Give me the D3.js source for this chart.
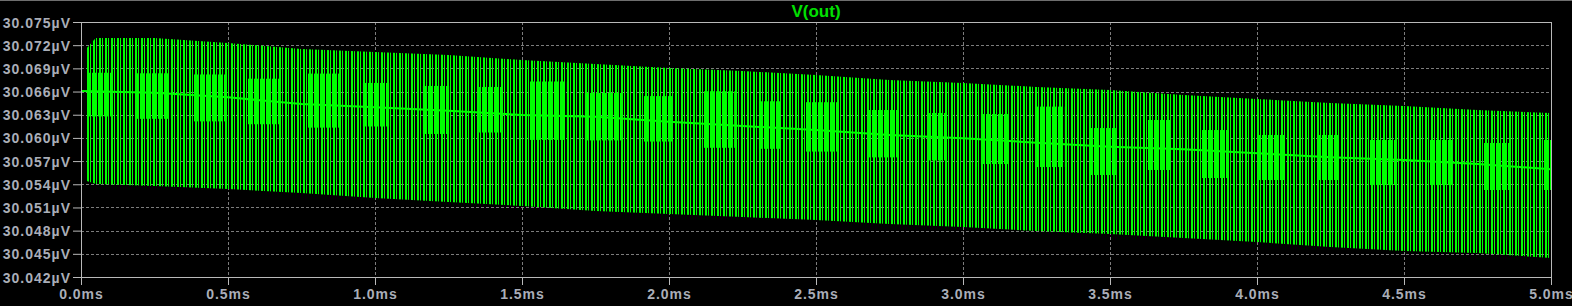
<!DOCTYPE html>
<html>
<head>
<meta charset="utf-8">
<script src="https://cdn.jsdelivr.net/npm/d3@7"></script>
<style>
  html, body { margin: 0; padding: 0; background: #000; }
  svg { display: block; }
</style>
</head>
<body>
<div id="chart"></div>
<script>
var width = 1572,
    height = 306;
var margin = { top: 22, right: 21, bottom: 29, left: 81 };

// envelope of the switching spikes (ms / uV)
var envTime = [0.02, 0.05, 0.25, 0.5, 0.75, 1.0, 1.25, 1.5, 1.75, 2.0, 2.25, 2.5, 2.75, 3.0, 3.25, 3.5, 3.75, 4.0, 4.25, 4.5, 4.75, 5.0];
var peakHi = [30.07164, 30.07293, 30.07293, 30.07228, 30.07151, 30.07112, 30.07073, 30.07008, 30.06956, 30.06905, 30.06866,
              30.06814, 30.06749, 30.06711, 30.06659, 30.06620, 30.06555, 30.06503, 30.06452, 30.06413, 30.06361, 30.06322];
var peakLo = [30.05442, 30.05403, 30.05378, 30.05339, 30.05287, 30.05222, 30.05170, 30.05119, 30.05054, 30.05015, 30.04976,
              30.04938, 30.04886, 30.04847, 30.04795, 30.04756, 30.04705, 30.04653, 30.04588, 30.04536, 30.04510, 30.04446];

// the dc level the spikes ride on
var midTime = [0, 0.25, 0.5, 0.75, 1.0, 1.25, 1.5, 1.75, 2.0, 2.25, 2.5, 2.75, 3.0, 3.25, 3.5, 3.75, 4.0, 4.25, 4.5, 4.75, 5.0];
var midVal = [30.06607, 30.06585, 30.06525, 30.06439, 30.06396, 30.06352, 30.06296, 30.06274, 30.06210, 30.06154, 30.06102,
              30.06038, 30.05995, 30.05938, 30.05886, 30.05852, 30.05801, 30.05749, 30.05714, 30.05662, 30.05594];

// dense bursts of shorter spikes around the dc level
var burstStart = [0.024, 0.190, 0.381, 0.568, 0.769, 0.959, 1.163, 1.354, 1.524, 1.714, 1.908, 2.112, 2.306, 2.463,
                  2.677, 2.881, 3.061, 3.245, 3.435, 3.626, 3.810, 4.000, 4.204, 4.384, 4.588, 4.769, 4.969];
var burstEnd = [0.105, 0.303, 0.490, 0.677, 0.878, 1.048, 1.252, 1.435, 1.650, 1.840, 2.010, 2.224, 2.384, 2.575,
                2.779, 2.939, 3.153, 3.344, 3.520, 3.707, 3.898, 4.092, 4.282, 4.476, 4.667, 4.861, 5.0];
var burstHi = [30.06843, 30.06836, 30.06821, 30.06766, 30.06832, 30.06711, 30.06672, 30.06659, 30.06730, 30.06581,
               30.06541, 30.06604, 30.06474, 30.06462, 30.06361, 30.06322, 30.06309, 30.06405, 30.06128, 30.06232,
               30.06102, 30.06038, 30.06038, 30.05973, 30.05973, 30.05934, 30.05973];
var burstLo = [30.06278, 30.06247, 30.06214, 30.06177, 30.06133, 30.06148, 30.06051, 30.06070, 30.05974, 30.05968,
               30.05953, 30.05872, 30.05859, 30.05823, 30.05748, 30.05709, 30.05662, 30.05623, 30.05520, 30.05585,
               30.05481, 30.05455, 30.05455, 30.05390, 30.05390, 30.05326, 30.05326];

var spikePeriod = 0.01; // ms, ~100kHz switching

var yTicks = [30.042, 30.045, 30.048, 30.051, 30.054, 30.057, 30.060, 30.063, 30.066, 30.069, 30.072, 30.075];
var xTicks = [0, 0.5, 1.0, 1.5, 2.0, 2.5, 3.0, 3.5, 4.0, 4.5, 5.0];
var traceName = "V(out)";

var green = "#00ff00";
var axisColor = "#b9b9b9";
var labelColor = "#aaaeb8";
var gridColor = "#7c7c7c";

var x = d3.scaleLinear().domain([0, 5]).range([margin.left, width - margin.right]);
var y = d3.scaleLinear().domain([30.042, 30.075]).range([height - margin.bottom, margin.top]);

var svg = d3.select("#chart").append("svg")
    .attr("width", width)
    .attr("height", height)
    .style("background", "#000");

// top border of the window
svg.append("line")
    .attr("x1", 0).attr("x2", width)
    .attr("y1", 0.5).attr("y2", 0.5)
    .attr("stroke", "#6e6e6e");

// stripes = one spike per switching period, snapped to whole pixels so they stay crisp
// (tile holds two periods, lines of 2px and 1px so the spikes are not all identical)
var pw = Math.round(x(spikePeriod) - x(0));
var x0 = Math.round(x(0));
var defs = svg.append("defs");
var pat = defs.append("pattern")
    .attr("id", "spikes")
    .attr("patternUnits", "userSpaceOnUse")
    .attr("x", x0).attr("y", 0)
    .attr("width", pw * 2).attr("height", 20);
pat.append("rect").attr("x", 0).attr("width", 2).attr("height", 20).attr("fill", green);
pat.append("rect").attr("x", pw).attr("width", 1).attr("height", 20).attr("fill", green);

defs.append("pattern")
    .attr("id", "burst")
    .attr("patternUnits", "userSpaceOnUse")
    .attr("x", x0 + 2).attr("y", 0)
    .attr("width", pw).attr("height", 20)
    .append("rect")
    .attr("width", 1).attr("height", 20)
    .attr("fill", green);

// grid
var grid = svg.append("g");
grid.selectAll(".hg")
    .data(yTicks.slice(1, -1))
    .enter().append("line")
    .attr("x1", x(0)).attr("x2", x(5))
    .attr("y1", d => Math.round(y(d)) + 0.5)
    .attr("y2", d => Math.round(y(d)) + 0.5)
    .attr("stroke", gridColor)
    .attr("stroke-dasharray", "3,2");
grid.selectAll(".vg")
    .data(xTicks.slice(1, -1))
    .enter().append("line")
    .attr("y1", y(30.075)).attr("y2", y(30.042))
    .attr("x1", d => Math.round(x(d)) + 0.5)
    .attr("x2", d => Math.round(x(d)) + 0.5)
    .attr("stroke", gridColor)
    .attr("stroke-dasharray", "3,2");

// trace
var env = envTime.map((t, i) => ({ t: t, hi: peakHi[i], lo: peakLo[i] }));
var area = d3.area()
    .x(d => x(d.t))
    .y0(d => y(d.lo))
    .y1(d => y(d.hi));

var plot = svg.append("g");
plot.append("path")
    .datum(env)
    .attr("d", area)
    .attr("fill", "url(#spikes)");

var bursts = burstStart.map((s, i) => ({ s: s, e: burstEnd[i], hi: burstHi[i], lo: burstLo[i] }));
plot.selectAll(".burst")
    .data(bursts)
    .enter().append("rect")
    .attr("x", d => x(d.s))
    .attr("width", d => x(d.e) - x(d.s))
    .attr("y", d => y(d.hi))
    .attr("height", d => y(d.lo) - y(d.hi))
    .attr("fill", "url(#burst)");

var mid = midTime.map((t, i) => ({ t: t, v: midVal[i] }));
plot.append("path")
    .datum(mid)
    .attr("d", d3.line().x(d => x(d.t)).y(d => y(d.v)))
    .attr("fill", "none")
    .attr("stroke", green)
    .attr("stroke-width", 2);

// axes
var yAxis = d3.axisLeft(y)
    .tickValues(yTicks)
    .tickSize(8)
    .tickSizeOuter(0)
    .tickPadding(2)
    .tickFormat(d => d3.format(".3f")(d) + "µV");
var xAxis = d3.axisBottom(x)
    .tickValues(xTicks)
    .tickSize(8)
    .tickSizeOuter(0)
    .tickPadding(4)
    .tickFormat(d => d3.format(".1f")(d) + "ms");

var gy = svg.append("g")
    .attr("transform", "translate(" + x(0) + ",0)")
    .call(yAxis);
var gx = svg.append("g")
    .attr("transform", "translate(0," + y(30.042) + ")")
    .call(xAxis);

[gx, gy].forEach(g => {
    g.select(".domain").remove();
    g.selectAll("line").attr("stroke", axisColor);
    g.selectAll("text")
        .attr("fill", labelColor)
        .style("font-family", "'Liberation Sans', Arial, sans-serif")
        .style("font-weight", "bold")
        .style("font-size", "14px")
        .style("letter-spacing", "1px");
});
gy.selectAll("text").attr("dy", "0.36em");

// plot frame
svg.append("rect")
    .attr("x", x(0) + 0.5)
    .attr("y", y(30.075) + 0.5)
    .attr("width", x(5) - x(0))
    .attr("height", y(30.042) - y(30.075))
    .attr("fill", "none")
    .attr("stroke", axisColor);

svg.append("text")
    .attr("x", (x(0) + x(5)) / 2)
    .attr("y", 17)
    .attr("text-anchor", "middle")
    .attr("fill", "#00e000")
    .style("font-family", "'Liberation Sans', Arial, sans-serif")
    .style("font-weight", "bold")
    .style("font-size", "17px")
    .text(traceName);
</script>
</body>
</html>
